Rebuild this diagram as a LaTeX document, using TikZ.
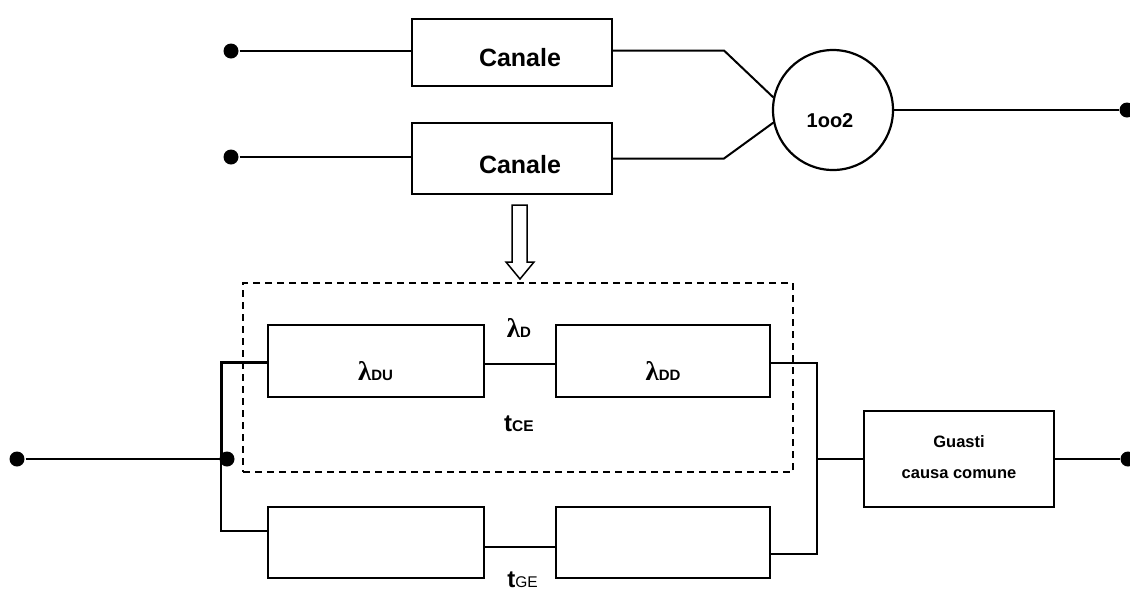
\documentclass[tikz,border=0pt]{standalone}
\usepackage{fontspec}
\setmainfont{Liberation Sans}
\newfontfamily\lamfont{Liberation Serif}
\begin{document}
\begin{tikzpicture}[x=1pt,y=-1pt,line width=2pt,
  box/.style={draw,rectangle,line width=2pt,inner sep=0pt},
  dot/.style={circle,fill=black,inner sep=0pt,minimum size=15pt},
  lbl/.style={anchor=base,inner sep=0pt,font=\bfseries},
  big/.style={font=\bfseries\fontsize{25}{25}\selectfont},
  grp/.style={draw,rectangle,line width=1.6pt,dash pattern=on 7pt off 5pt,inner sep=0pt}]
\useasboundingbox (0,0) rectangle (1130,590);
% top part
\node[box,minimum width=200pt,minimum height=67pt] (c1) at (512,52.5) {};
\node[box,minimum width=200pt,minimum height=71pt] (c2) at (512,158.5) {};
\node[lbl,big] (c1t) at (520,66) {Canale};
\node[lbl,big] (c2t) at (520,173) {Canale};
\node[draw,circle,line width=2.2pt,minimum size=120pt,inner sep=0pt] (vote) at (833,110) {};
\node[lbl,font=\bfseries\fontsize{20}{20}\selectfont] (vt) at (830,127) {1oo2};
\node[dot] (d1) at (231,51) {};
\node[dot] (d2) at (231,157) {};
\node[dot] (d3) at (1127,110) {};
\draw (d1) -- (d1 -| c1.west);
\draw (d2) -- (d2 -| c2.west);
\draw ([yshift=2pt]c1.east) -- ++(111,0) -- (vote.168);
\draw (c2.east) -- ++(111,0) -- (vote.192);
\draw (vote.east) -- (d3);
% hollow arrow
\draw[line width=1.5pt,fill=white] (512,205) -- (527,205) -- (527,262) -- (534,262) -- (520,279) -- (506,262) -- (512,262) -- cycle;
% bottom part
\node[grp,minimum width=550pt,minimum height=189pt] (g) at (518,377.5) {};
\node[box,minimum width=216pt,minimum height=72pt] (bDU) at (376,361) {};
\node[box,minimum width=214pt,minimum height=72pt] (bDD) at (663,361) {};
\node[box,minimum width=216pt,minimum height=71pt] (b3) at (376,542.5) {};
\node[box,minimum width=214pt,minimum height=71pt] (b4) at (663,542.5) {};
\node[box,minimum width=190pt,minimum height=96pt] (gc) at (959,459) {};
\node[lbl] (lDU) at (375.5,380) {{\lamfont\fontsize{27}{27}\selectfont λ}{\fontsize{15}{15}\selectfont DU}};
\node[lbl] (lDD) at (663,380) {{\lamfont\fontsize{27}{27}\selectfont λ}{\fontsize{15}{15}\selectfont DD}};
\node[lbl] (lD) at (519,337) {{\lamfont\fontsize{27}{27}\selectfont λ}{\fontsize{15}{15}\selectfont D}};
\node[lbl] (tce) at (519,431) {{\fontsize{24}{24}\selectfont t}{\fontsize{15.5}{15.5}\selectfont CE}};
\node[lbl] (tge) at (522.5,587) {{\fontsize{24}{24}\selectfont t}{\fontsize{15.5}{15.5}\selectfont\mdseries GE}};
\node[lbl,font=\bfseries\fontsize{16.5}{16.5}\selectfont] (gt1) at (959,447) {Guasti};
\node[lbl,font=\bfseries\fontsize{16.5}{16.5}\selectfont] (gt2) at (959,478) {causa comune};
\coordinate (jl) at (221,459);
\coordinate (jr) at (817,459);
\node[dot] (d4) at (17,459) {};
\node[dot] (d6) at (227,459) {};
\node[dot] (d5) at (1128,459) {};
\draw (d4) -- (jl);
\draw[line width=3pt] (jl) |- ([yshift=-1pt]bDU.west);
\draw (jl) |- ([yshift=11.5pt]b3.west);
\draw ([yshift=-3pt]bDU.east) -- ([yshift=-3pt]bDD.west);
\draw ([yshift=-4.5pt]b3.east) -- ([yshift=-4.5pt]b4.west);
\draw ([yshift=-2pt]bDD.east) -| (jr);
\draw ([yshift=-11.5pt]b4.east) -| (jr);
\draw (jr) -- (gc.west);
\draw (gc.east) -- (d5);
\end{tikzpicture}
\end{document}
